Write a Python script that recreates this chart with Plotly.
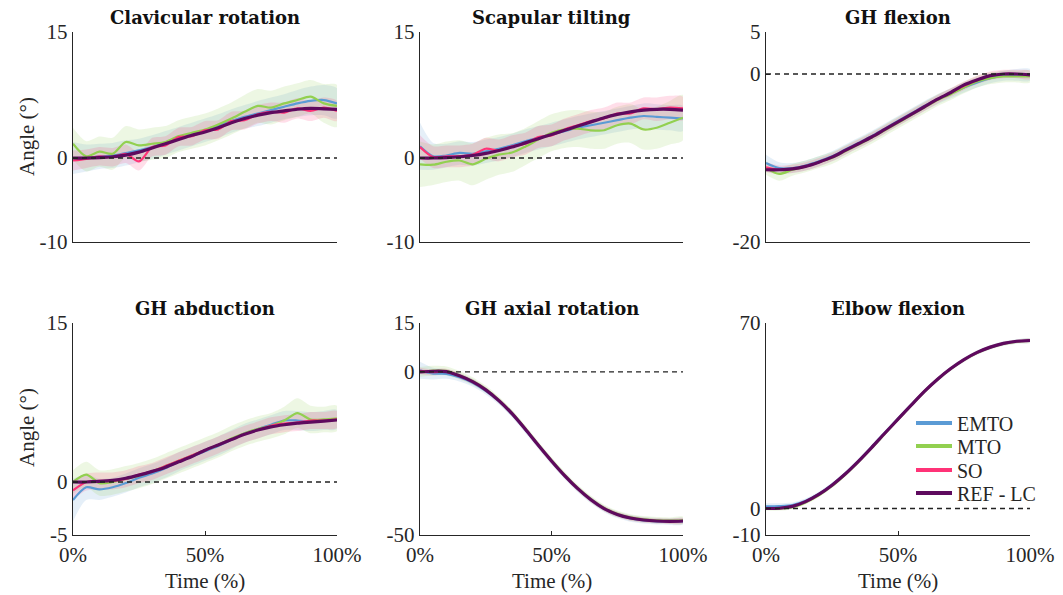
import plotly.graph_objects as go

# ---------------- data ----------------
T = [0, 5, 10, 15, 20, 25, 30, 35, 40, 45, 50, 55, 60, 65, 70, 75, 80, 85, 90, 95, 100]

TITLES = ["Clavicular rotation", "Scapular tilting", "GH flexion",
          "GH abduction", "GH axial rotation", "Elbow flexion"]
SERIES = ["EMTO", "MTO", "SO", "REF - LC"]
COLORS = ["#5b9bd5", "#92d050", "#ff3377", "#5e0a5e"]
Y_RANGES = [[-10, 15], [-10, 15], [-20, 5], [-5, 15], [-50, 15], [-10, 70]]
Y_TICKS = [[-10, 0, 15], [-10, 0, 15], [-20, 0, 5], [-5, 0, 15], [-50, 0, 15], [-10, 0, 70]]
Y_TICKTEXT = [["-10", "0", "15"], ["-10", "0", "15"], ["-20", "0", "5"],
              ["-5", "0", "15"], ["-50", "0", "15"], ["-10", "0", "70"]]
X_TICKS = [0, 50, 100]
X_TICKTEXT = ["0%", "50%", "100%"]

# Clavicular rotation
CLAV_EMTO = [0.0, 0.0, 0.2, 0.3, 0.6, 0.9, 1.3, 1.8, 2.3, 2.8, 3.3, 3.8, 4.4, 4.9, 5.3, 5.7, 6.1, 6.5, 6.8, 6.9, 6.5]
CLAV_MTO = [1.7, 0.2, 0.75, 0.5, 1.9, 1.5, 1.7, 1.9, 2.6, 3.0, 3.4, 4.0, 4.7, 5.5, 6.2, 6.0, 6.5, 6.9, 7.3, 6.5, 6.2]
CLAV_SO = [-0.3, -0.1, 0.2, 0.1, 0.5, -0.4, 1.3, 1.5, 2.5, 2.6, 3.3, 3.4, 4.4, 4.5, 5.2, 5.5, 5.4, 5.9, 5.6, 6.0, 5.6]
CLAV_REF = [0.0, 0.0, 0.05, 0.15, 0.35, 0.7, 1.2, 1.7, 2.2, 2.7, 3.1, 3.6, 4.2, 4.7, 5.1, 5.4, 5.6, 5.8, 5.9, 5.85, 5.8]
CLAV_EMTO_SD = [1.9, 1.6, 1.5, 1.5, 1.5, 1.4, 1.4, 1.4, 1.4, 1.4, 1.4, 1.4, 1.4, 1.4, 1.5, 1.5, 1.5, 1.6, 1.7, 1.8, 1.8]
CLAV_MTO_SD = [1.9, 1.8, 1.8, 1.9, 1.9, 1.9, 1.9, 1.9, 1.9, 1.9, 1.9, 1.9, 1.9, 2.0, 2.0, 2.0, 2.0, 2.0, 2.0, 2.3, 2.5]
CLAV_SO_SD = [1.2, 1.1, 1.1, 1.1, 1.1, 1.1, 1.1, 1.1, 1.1, 1.1, 1.1, 1.1, 1.1, 1.1, 1.1, 1.1, 1.2, 1.2, 1.2, 1.2, 1.2]

# Scapular tilting
SCAP_EMTO = [1.4, 0.2, 0.3, 0.6, 0.5, 0.8, 1.1, 1.5, 2.0, 2.4, 2.8, 3.2, 3.6, 3.9, 4.2, 4.5, 4.8, 5.0, 4.9, 4.8, 4.7]
SCAP_MTO = [-0.75, -0.8, -0.45, -0.3, -0.75, -0.1, 0.4, 0.65, 1.35, 2.2, 3.0, 3.4, 3.5, 3.3, 3.3, 3.9, 4.1, 3.4, 3.6, 4.2, 4.8]
SCAP_SO = [1.3, 0.1, 0.2, 0.2, 0.4, 1.1, 0.9, 1.4, 1.7, 2.5, 2.7, 3.4, 3.9, 4.4, 4.7, 5.3, 5.3, 5.9, 5.8, 6.0, 5.9]
SCAP_REF = [0.0, 0.0, 0.05, 0.15, 0.3, 0.55, 0.9, 1.3, 1.8, 2.3, 2.8, 3.3, 3.8, 4.3, 4.8, 5.2, 5.5, 5.7, 5.8, 5.8, 5.7]
SCAP_EMTO_SD = [2.8, 1.6, 1.4, 1.4, 1.4, 1.4, 1.4, 1.4, 1.4, 1.4, 1.4, 1.4, 1.4, 1.4, 1.4, 1.4, 1.4, 1.5, 1.5, 1.5, 1.5]
SCAP_MTO_SD = [2.7, 2.4, 2.4, 2.4, 2.5, 2.5, 2.4, 2.3, 2.2, 2.2, 2.2, 2.2, 2.2, 2.2, 2.2, 2.2, 2.3, 2.4, 2.5, 2.6, 2.7]
SCAP_SO_SD = [1.4, 1.3, 1.3, 1.3, 1.3, 1.3, 1.3, 1.3, 1.3, 1.3, 1.3, 1.3, 1.3, 1.3, 1.3, 1.3, 1.3, 1.3, 1.4, 1.4, 1.4]

# GH flexion
GHF_EMTO = [-10.6, -11.2, -11.2, -10.9, -10.4, -9.8, -9.0, -8.2, -7.4, -6.5, -5.6, -4.7, -3.8, -3.0, -2.3, -1.6, -1.0, -0.5, -0.2, -0.1, -0.1]
GHF_MTO = [-11.2, -11.9, -11.4, -11.0, -10.5, -10.0, -9.2, -8.4, -7.6, -6.7, -5.8, -4.9, -4.0, -3.1, -2.4, -1.6, -0.9, -0.5, -0.3, -0.3, -0.3]
GHF_SO = [-11.1, -11.4, -11.3, -11.0, -10.5, -9.9, -9.1, -8.3, -7.5, -6.6, -5.7, -4.8, -3.9, -3.0, -2.2, -1.4, -0.7, -0.2, 0.0, 0.0, -0.1]
GHF_REF = [-11.4, -11.4, -11.3, -11.0, -10.5, -9.9, -9.1, -8.3, -7.5, -6.6, -5.7, -4.8, -3.9, -3.0, -2.2, -1.3, -0.7, -0.2, 0.0, 0.0, -0.1]
GHF_EMTO_SD = [1.0, 0.7, 0.6, 0.6, 0.6, 0.6, 0.6, 0.6, 0.6, 0.6, 0.6, 0.6, 0.6, 0.6, 0.6, 0.6, 0.6, 0.6, 0.6, 0.7, 0.7]
GHF_MTO_SD = [0.8, 0.8, 0.7, 0.7, 0.7, 0.7, 0.7, 0.7, 0.7, 0.7, 0.7, 0.7, 0.7, 0.7, 0.7, 0.7, 0.7, 0.7, 0.7, 0.7, 0.7]
GHF_SO_SD = [0.6, 0.5, 0.5, 0.5, 0.5, 0.5, 0.5, 0.5, 0.5, 0.5, 0.5, 0.5, 0.5, 0.5, 0.5, 0.5, 0.5, 0.5, 0.5, 0.5, 0.5]

# GH abduction
GHA_EMTO = [-1.7, -0.5, -0.7, -0.5, -0.1, 0.4, 0.8, 1.3, 1.9, 2.4, 2.9, 3.4, 4.0, 4.6, 5.0, 5.4, 5.8, 5.8, 5.7, 5.8, 5.9]
GHA_MTO = [0.0, 0.7, -0.1, 0.0, 0.3, 0.6, 1.0, 1.5, 2.0, 2.5, 3.0, 3.5, 4.1, 4.6, 5.0, 5.3, 5.8, 6.5, 5.9, 5.9, 6.0]
GHA_SO = [-0.8, 0.0, 0.1, 0.1, 0.3, 0.7, 1.0, 1.5, 2.0, 2.5, 3.0, 3.5, 4.0, 4.5, 4.9, 5.3, 5.5, 5.6, 5.8, 5.8, 5.9]
GHA_REF = [0.0, 0.0, 0.05, 0.15, 0.35, 0.65, 1.0, 1.4, 1.9, 2.4, 3.0, 3.5, 4.0, 4.5, 4.9, 5.2, 5.4, 5.55, 5.65, 5.75, 5.85]
GHA_EMTO_SD = [2.0, 1.2, 1.0, 0.9, 0.9, 0.9, 0.9, 0.9, 0.9, 0.9, 0.9, 0.9, 0.9, 0.9, 0.9, 0.9, 0.9, 0.9, 0.9, 0.9, 0.9]
GHA_MTO_SD = [1.1, 1.2, 1.2, 1.2, 1.2, 1.2, 1.2, 1.2, 1.2, 1.2, 1.2, 1.2, 1.2, 1.2, 1.2, 1.2, 1.3, 1.4, 1.3, 1.2, 1.2]
GHA_SO_SD = [0.9, 0.8, 0.8, 0.8, 0.8, 0.8, 0.8, 0.8, 0.8, 0.8, 0.8, 0.8, 0.8, 0.8, 0.8, 0.8, 0.8, 0.8, 0.8, 0.8, 0.8]

# GH axial rotation
GHR_EMTO = [0.5, -0.5, -0.6, -1.6, -3.3, -5.8, -9.0, -13.0, -17.7, -22.6, -27.4, -31.9, -35.9, -39.3, -42.0, -43.8, -44.9, -45.5, -45.8, -45.9, -45.8]
GHR_MTO = [0.0, 0.4, 0.3, -1.0, -2.8, -5.3, -8.6, -12.6, -17.3, -22.3, -27.1, -31.6, -35.6, -39.0, -41.7, -43.5, -44.6, -45.2, -45.5, -45.6, -45.5]
GHR_SO = [0.3, -0.1, 0.1, -1.2, -3.0, -5.5, -8.8, -12.8, -17.5, -22.5, -27.3, -31.8, -35.8, -39.2, -41.9, -43.7, -44.8, -45.4, -45.7, -45.8, -45.7]
GHR_REF = [0.0, 0.2, 0.1, -1.2, -3.0, -5.5, -8.8, -12.8, -17.5, -22.5, -27.3, -31.8, -35.8, -39.2, -41.9, -43.7, -44.8, -45.4, -45.7, -45.8, -45.7]
GHR_EMTO_SD = [2.6, 1.8, 1.5, 1.3, 1.2, 1.1, 1.0, 1.0, 1.0, 1.0, 1.0, 1.0, 1.0, 1.0, 1.0, 1.0, 1.0, 1.0, 1.0, 1.0, 1.0]
GHR_MTO_SD = [1.5, 1.5, 1.4, 1.3, 1.2, 1.1, 1.0, 1.0, 1.0, 1.0, 1.0, 1.0, 1.0, 1.0, 1.0, 1.0, 1.0, 1.0, 1.0, 1.0, 1.1]
GHR_SO_SD = [1.0, 0.9, 0.9, 0.9, 0.8, 0.8, 0.8, 0.8, 0.8, 0.8, 0.8, 0.8, 0.8, 0.8, 0.8, 0.8, 0.8, 0.8, 0.8, 0.8, 0.8]

# Elbow flexion
ELB_EMTO = [0.8, 0.9, 1.3, 2.9, 5.5, 9.0, 13.2, 18.0, 23.2, 28.6, 33.9, 39.1, 44.2, 48.8, 52.8, 56.2, 58.9, 60.9, 62.3, 63.1, 63.4]
ELB_MTO = [0.0, 0.0, 0.5, 2.3, 5.0, 8.5, 12.8, 17.6, 22.8, 28.2, 33.6, 38.9, 44.1, 48.7, 52.7, 56.1, 58.8, 60.8, 62.2, 63.0, 63.3]
ELB_SO = [0.1, 0.1, 0.8, 2.6, 5.3, 8.8, 13.0, 17.8, 23.0, 28.4, 33.7, 39.0, 44.2, 48.8, 52.8, 56.2, 58.9, 60.9, 62.3, 63.1, 63.4]
ELB_REF = [0.0, 0.1, 0.8, 2.6, 5.3, 8.8, 13.0, 17.8, 23.0, 28.4, 33.7, 39.0, 44.2, 48.8, 52.8, 56.2, 58.9, 60.9, 62.3, 63.1, 63.4]
ELB_EMTO_SD = [1.2, 1.1, 1.0, 0.9, 0.8, 0.8, 0.8, 0.8, 0.8, 0.8, 0.8, 0.8, 0.8, 0.8, 0.8, 0.8, 0.8, 0.8, 0.8, 0.8, 0.8]
ELB_MTO_SD = [0.8, 0.8, 0.8, 0.8, 0.8, 0.8, 0.8, 0.8, 0.8, 0.8, 0.8, 0.8, 0.8, 0.8, 0.8, 0.8, 0.8, 0.8, 0.8, 0.8, 0.8]
ELB_SO_SD = [0.6, 0.6, 0.6, 0.6, 0.6, 0.6, 0.6, 0.6, 0.6, 0.6, 0.6, 0.6, 0.6, 0.6, 0.6, 0.6, 0.6, 0.6, 0.6, 0.6, 0.6]

PANELS = [
    ([CLAV_EMTO, CLAV_MTO, CLAV_SO, CLAV_REF], [CLAV_EMTO_SD, CLAV_MTO_SD, CLAV_SO_SD]),
    ([SCAP_EMTO, SCAP_MTO, SCAP_SO, SCAP_REF], [SCAP_EMTO_SD, SCAP_MTO_SD, SCAP_SO_SD]),
    ([GHF_EMTO, GHF_MTO, GHF_SO, GHF_REF], [GHF_EMTO_SD, GHF_MTO_SD, GHF_SO_SD]),
    ([GHA_EMTO, GHA_MTO, GHA_SO, GHA_REF], [GHA_EMTO_SD, GHA_MTO_SD, GHA_SO_SD]),
    ([GHR_EMTO, GHR_MTO, GHR_SO, GHR_REF], [GHR_EMTO_SD, GHR_MTO_SD, GHR_SO_SD]),
    ([ELB_EMTO, ELB_MTO, ELB_SO, ELB_REF], [ELB_EMTO_SD, ELB_MTO_SD, ELB_SO_SD]),
]

# ---------------- layout geometry ----------------
W, H = 1063, 595
COL_PX = [(73, 337), (420, 683), (766, 1030)]
ROW_PX = [(32, 242), (323, 535)]
LEGEND_ROWS_PX = [423, 446, 470, 493]
LEGEND_LEFT_PX = 911
FONT = "Liberation Serif"
AXC = "#262626"
LEGEND_KEYS = ["legend", "legend2", "legend3", "legend4"]


def hexrgba(h, a):
    h = h.lstrip("#")
    return "rgba(%d,%d,%d,%.2f)" % (int(h[0:2], 16), int(h[2:4], 16), int(h[4:6], 16), a)


fig = go.Figure()
layout = dict(
    width=W, height=H, margin=dict(l=0, r=0, t=0, b=0, autoexpand=False),
    paper_bgcolor="white", plot_bgcolor="white",
    font=dict(family=FONT, size=20, color=AXC),
    showlegend=True,
)
annotations = []
shapes = []

for i, (means, sds) in enumerate(PANELS):
    r, c = divmod(i, 3)
    n = i + 1
    xa, ya = "x%d" % n, "y%d" % n
    xk = "xaxis" if n == 1 else "xaxis%d" % n
    yk = "yaxis" if n == 1 else "yaxis%d" % n
    x0, x1 = COL_PX[c]
    ytop, ybot = ROW_PX[r]
    bottom = r == 1
    layout[xk] = dict(
        domain=[x0 / W, x1 / W], anchor=ya, range=[0, 100], automargin=False,
        showline=True, linecolor=AXC, linewidth=1.4, showgrid=False, zeroline=False,
        tickmode="array", tickvals=X_TICKS, ticktext=X_TICKTEXT,
        ticks="inside" if bottom else "", ticklen=4, tickcolor=AXC,
        showticklabels=bottom, ticklabelstandoff=1,
        tickfont=dict(family=FONT, size=21, color=AXC),
    )
    layout[yk] = dict(
        domain=[1 - ybot / H, 1 - ytop / H], anchor=xa, range=Y_RANGES[i], automargin=False,
        showline=True, linecolor=AXC, linewidth=1.4, showgrid=False, zeroline=False,
        tickmode="array", tickvals=Y_TICKS[i], ticktext=Y_TICKTEXT[i],
        ticks="inside", ticklen=4, tickcolor=AXC,
        tickfont=dict(family=FONT, size=21, color=AXC),
    )
    # shaded bands
    for k in range(3):
        up = [m + s for m, s in zip(means[k], sds[k])]
        lo = [m - s for m, s in zip(means[k], sds[k])]
        fig.add_trace(go.Scatter(
            x=T + T[::-1], y=up + lo[::-1], xaxis=xa, yaxis=ya,
            fill="toself", fillcolor=hexrgba(COLORS[k], 0.16),
            line=dict(width=0, shape="spline", smoothing=0.8), hoverinfo="skip", showlegend=False,
        ))
    # mean lines
    for k in range(4):
        fig.add_trace(go.Scatter(
            x=T, y=means[k], xaxis=xa, yaxis=ya, mode="lines", name=SERIES[k],
            line=dict(color=COLORS[k], width=3.2 if k == 3 else 2.2, shape="spline", smoothing=0.8),
            showlegend=False,
        ))
    # zero reference line
    shapes.append(dict(type="line", xref=xa, yref=ya, x0=0, x1=100, y0=0, y1=0,
                       line=dict(color="#222222", width=1.3, dash="5px,4px"), layer="above"))
    # panel title
    annotations.append(dict(
        text="<b>%s</b>" % TITLES[i], xref="paper", yref="paper",
        x=(x0 + x1) / 2 / W, y=1 - (ytop - 15) / H, xanchor="center", yanchor="middle",
        showarrow=False, font=dict(family="DejaVu Serif", size=18, color="#111111"),
    ))
    if c == 0:
        annotations.append(dict(
            text="Angle (°)", xref="paper", yref="paper", textangle=-90,
            x=27 / W, y=1 - (ytop + 105) / H, xanchor="center", yanchor="middle",
            showarrow=False, font=dict(family=FONT, size=21, color=AXC),
        ))
    if bottom:
        annotations.append(dict(
            text="Time (%)", xref="paper", yref="paper",
            x=(x0 + x1) / 2 / W, y=1 - 581 / H, xanchor="center", yanchor="middle",
            showarrow=False, font=dict(family=FONT, size=21, color=AXC),
        ))

# legend entries (thicker sample lines, as in the reference legend)
for k in range(4):
    fig.add_trace(go.Scatter(
        x=[None], y=[None], xaxis="x6", yaxis="y6", mode="lines", name=SERIES[k],
        line=dict(color=COLORS[k], width=4), showlegend=True, legend=LEGEND_KEYS[k],
    ))

layout["annotations"] = annotations
layout["shapes"] = shapes
for k, key in enumerate(LEGEND_KEYS):
    layout[key] = dict(
        x=LEGEND_LEFT_PX / W, y=1 - LEGEND_ROWS_PX[k] / H, xanchor="left", yanchor="middle",
        bgcolor="rgba(0,0,0,0)", font=dict(family=FONT, size=20, color=AXC),
        itemwidth=36, borderwidth=0,
    )
fig.update_layout(**layout)
fig.write_html("out.html")
